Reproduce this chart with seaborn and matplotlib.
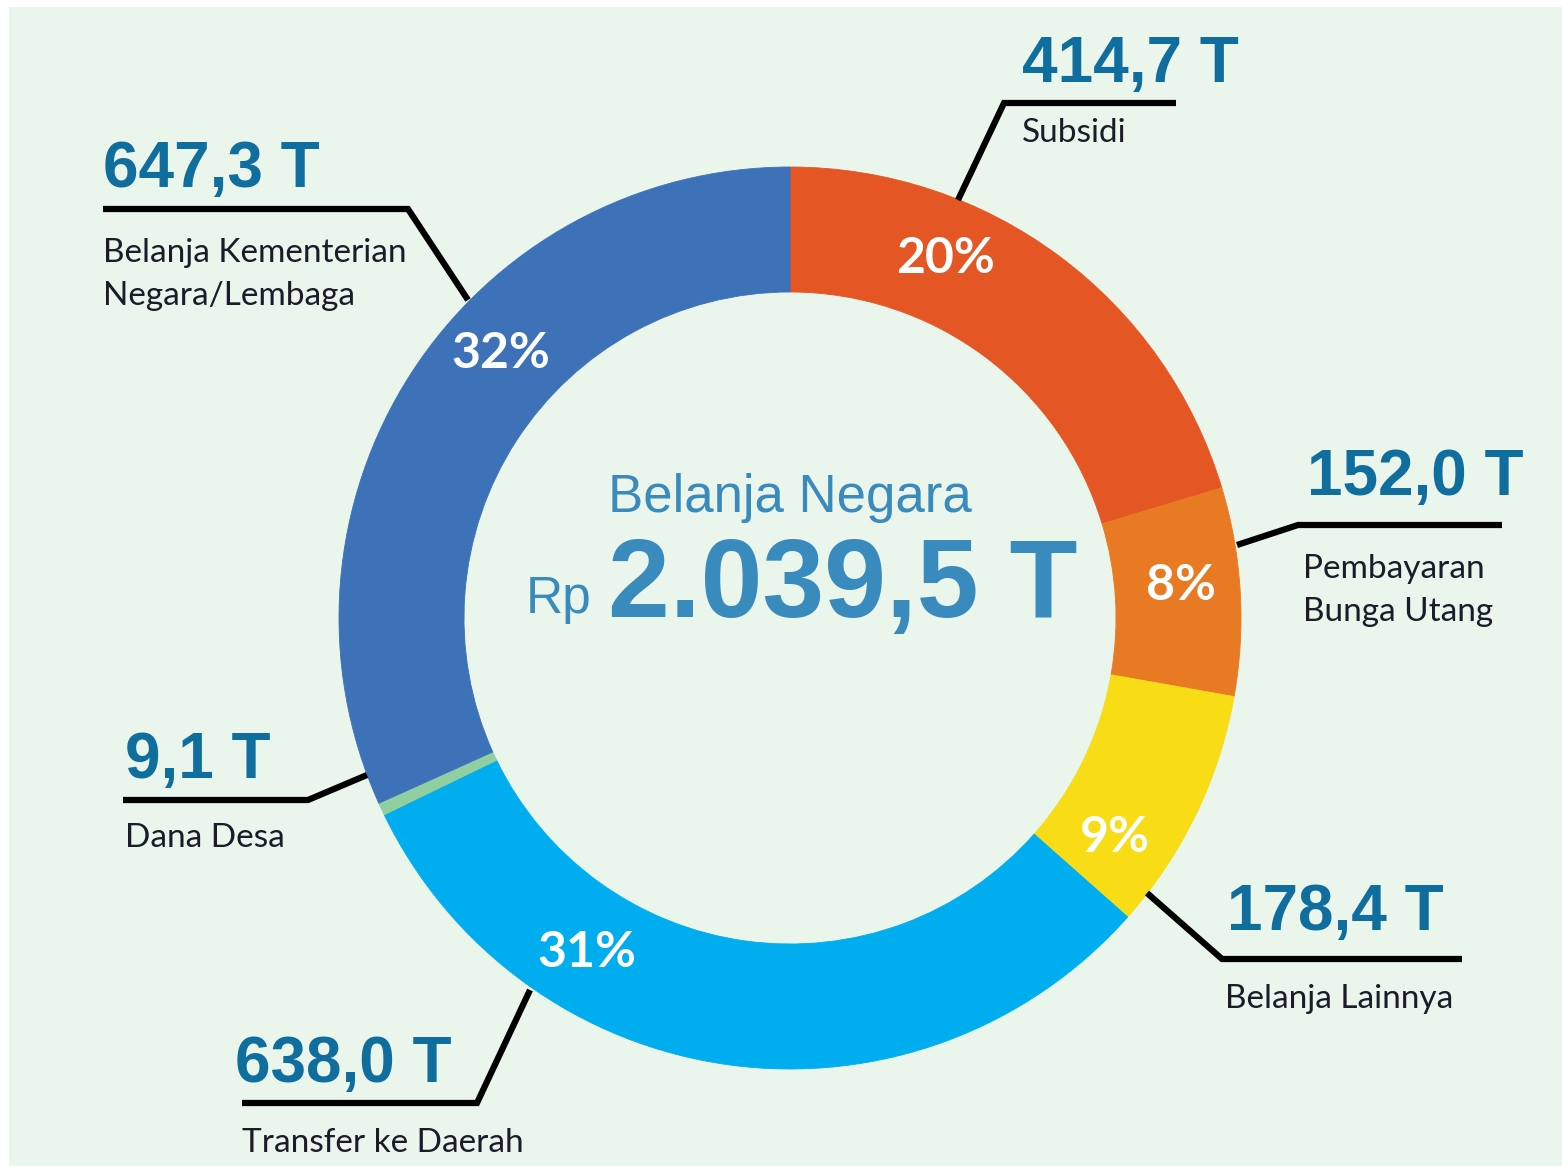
import matplotlib
matplotlib.use("Agg")
import matplotlib.pyplot as plt
import seaborn as sns
import numpy as np
from matplotlib.patches import Rectangle

# -----------------------------
# data
# -----------------------------
categories = ["Subsidi", "Pembayaran\nBunga Utang", "Belanja Lainnya",
              "Transfer ke Daerah", "Dana Desa",
              "Belanja Kementerian\nNegara/Lembaga"]
values = [414.7, 152.0, 178.4, 638.0, 9.1, 647.3]
value_labels = ["414,7 T", "152,0 T", "178,4 T", "638,0 T", "9,1 T", "647,3 T"]
pct_labels = ["20%", "8%", "9%", "31%", "", "32%"]
total_label = "2.039,5 T"
center_title = "Belanja Negara"

colors = ["#e55625", "#e87a23", "#f7dc16", "#00aeef", "#8fcfa0", "#3d72b8"]

# -----------------------------
# layout (pixel coords, y from top)
# -----------------------------
W, H = 1562, 1166
CX, CY = 790, 618
R_OUT, RING = 451, 125

# leader: start point, elbow, end x of horizontal
leaders = [
    ((958, 200), (1004, 103), 1176),
    ((1237, 545), (1298, 525), 1502),
    ((1147, 893), (1222, 959), 1462),
    ((530, 990), (477, 1103), 242),
    ((367, 775), (308, 800), 123),
    ((468, 300), (408, 209), 103),
]
# value text (x, baseline y), name text (x, baseline of first line)
value_pos = [(1022, 82), (1307, 495), (1227, 930), (235, 1082), (125, 778), (103, 187)]
name_pos = [(1022, 142), (1303, 578), (1225, 1008), (242, 1152), (125, 847), (103, 262)]
NAME_STEP = 43
pct_angles = [66.6, 4.7, -34.1, -121.3, 0, 137.6]
pct_radius = 392

VALUE_COLOR = "#0f6e9e"
CENTER_COLOR = "#3a8bbd"
NAME_COLOR = "#1b1b2a"
BG = "#eaf5ec"


def fy(y):
    return H - y


sns.set_theme(style="white")
plt.rcParams["font.family"] = ["Liberation Sans", "DejaVu Sans"]

fig = plt.figure(figsize=(W / 100, H / 100), dpi=100)
fig.patch.set_facecolor("white")
ax = fig.add_axes([0, 0, 1, 1])
ax.add_patch(Rectangle((9, 0), W - 9, H - 7, facecolor=BG, edgecolor="none", zorder=0))

wedges, _ = ax.pie(
    values,
    colors=colors,
    startangle=90,
    counterclock=False,
    radius=R_OUT,
    center=(CX, fy(CY)),
    wedgeprops=dict(width=RING, linewidth=0),
    frame=True,
)
for w, c in zip(wedges, colors):
    w.set_edgecolor(c)
    w.set_linewidth(0.6)
    w.set_zorder(2)

# percentage labels inside the ring
for lab, ang in zip(pct_labels, pct_angles):
    if not lab:
        continue
    a = np.deg2rad(ang)
    ax.text(CX + pct_radius * np.cos(a), fy(CY) + pct_radius * np.sin(a), lab,
            ha="center", va="center", color="white", fontsize=36,
            fontweight="bold", family=["Lato", "DejaVu Sans"], zorder=4)

# leaders, values and names
for (start, elbow, xend), vl, vp, nm, npos in zip(leaders, value_labels, value_pos,
                                                   categories, name_pos):
    ax.plot([start[0], elbow[0], xend], [fy(start[1]), fy(elbow[1]), fy(elbow[1])],
            color="black", lw=4.5, solid_capstyle="butt", solid_joinstyle="miter", zorder=3)
    ax.text(vp[0], fy(vp[1]), vl, ha="left", va="baseline", color=VALUE_COLOR,
            fontsize=46, fontweight="bold", zorder=4)
    for i, line in enumerate(nm.split("\n")):
        ax.text(npos[0], fy(npos[1] + i * NAME_STEP), line, ha="left", va="baseline",
                color=NAME_COLOR, fontsize=24, family=["Lato", "DejaVu Sans"], zorder=4)

# center text
ax.text(790, fy(512), center_title, ha="center", va="baseline", color=CENTER_COLOR,
        fontsize=38, zorder=4)
ax.text(592, fy(613), "Rp", ha="right", va="baseline", color=CENTER_COLOR,
        fontsize=37, zorder=4)
ax.text(608, fy(617), total_label, ha="left", va="baseline", color=CENTER_COLOR,
        fontsize=80, fontweight="bold", zorder=4)

ax.set_xlim(0, W)
ax.set_ylim(0, H)
ax.set_aspect("equal", adjustable="box")
ax.axis("off")

fig.savefig("out.png", dpi=100, facecolor="white")
